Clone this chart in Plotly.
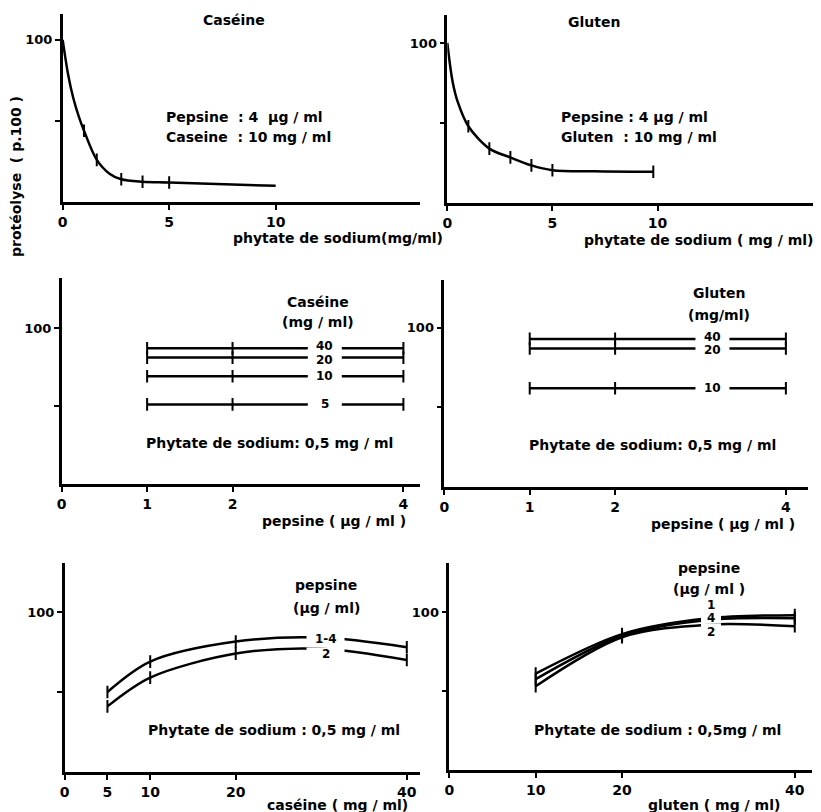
import plotly.graph_objects as go

# The page body keeps an 8px margin, so the figure is shifted by it.
OX, OY = 8, 8
W, H = 813, 804

# ---------------- data ----------------
# Panel 1 : caseine, phytate de sodium
cas_phyt_curve_x = [0, 0.25, 0.5, 0.75, 1, 1.6, 2.2, 2.75, 3.75, 5, 10]
cas_phyt_curve_y = [100, 79, 64, 53, 44, 26, 17.5, 14, 12.5, 12, 10]
cas_phyt_pts_x = [1, 1.6, 2.75, 3.75, 5]
cas_phyt_pts_y = [44, 26, 14, 12.5, 12]

# Panel 2 : gluten, phytate de sodium
glu_phyt_curve_x = [0, 0.25, 0.5, 1, 2, 3, 4, 5, 7, 9.8]
glu_phyt_curve_y = [100, 76, 63, 48, 34, 28.5, 23.5, 20.5, 19.8, 19.5]
glu_phyt_pts_x = [1, 2, 3, 4, 5, 9.8]
glu_phyt_pts_y = [48, 34, 28.5, 23.5, 20.5, 19.5]

# Panel 3 : caseine conc. vs pepsine
pepsine_x = [1, 2, 4]
cas_levels = ["40", "20", "10", "5"]
cas_pep_y = {"40": [87, 87, 87], "20": [81, 81, 81], "10": [69, 69, 69], "5": [51, 51, 51]}

# Panel 4 : gluten conc. vs pepsine
glu_levels = ["40", "20", "10"]
glu_pep_y = {"40": [93, 93, 93], "20": [87, 87, 87], "10": [62, 62, 62]}

# Panel 5 : caseine concentration, pepsine groups
cas_conc_x = [5, 10, 20, 30, 40]
cas_conc_pts_x = [5, 10, 20, 40]
cas_groups = ["1-4", "2"]
cas_conc_y = {"1-4": [50, 69, 81.5, 84, 78], "2": [41, 59, 74, 77, 70]}
cas_conc_pts_y = {"1-4": [50, 69, 81.5, 78], "2": [41, 59, 74, 70]}

# Panel 6 : gluten concentration, pepsine groups
glu_conc_x = [10, 20, 30, 40]
glu_groups = ["1", "4", "2"]
glu_conc_y = {"1": [61, 86, 96, 98], "4": [57.5, 85, 95, 96], "2": [53, 84, 92, 91]}

# ---------------- helpers ----------------
FONT = "DejaVu Sans"
BLACK = "black"
NB = "\u00a0"


def px(x):
    return (x - OX) / W


def py(y):
    return 1 - (y - OY) / H


fig = go.Figure()

# (panel, x-domain px, y-domain px (bottom, top), xrange, yrange, xticks)
panels = [
    (1, (58, 418), (202, 14), [0, 16.8], [0, 116], [0, 5, 10]),
    (2, (445, 813), (203, 15), [0, 17.4], [0, 117.5], [0, 5, 10]),
    (3, (57, 418), (484, 278), [0, 4.2], [0, 132], [0, 1, 2, 4]),
    (4, (442, 808), (487, 280), [0, 4.26], [0, 130], [0, 1, 2, 4]),
    (5, (60, 418), (772, 563), [0, 41.6], [0, 130.6], [0, 5, 10, 20, 40]),
    (6, (447, 812), (770, 563), [0, 42], [0, 131], [0, 10, 20, 40]),
]

for n, (x0, x1), (yb, yt), xr, yr, xt in panels:
    sfx = "" if n == 1 else str(n)
    fig.update_layout(**{
        "xaxis" + sfx: dict(
            domain=[px(x0), px(x1)], range=xr, anchor="y" + sfx,
            showline=True, linecolor=BLACK, linewidth=2.5,
            showgrid=False, zeroline=False,
            ticks="outside", ticklen=5, tickwidth=1.5, tickcolor=BLACK,
            tickvals=xt, ticktext=[str(v) for v in xt],
            tickfont=dict(family=FONT, size=14, color=BLACK, weight="bold"),
        ),
        "yaxis" + sfx: dict(
            domain=[py(yb), py(yt)], range=yr, anchor="x" + sfx,
            showline=True, linecolor=BLACK, linewidth=2.5,
            showgrid=False, zeroline=False,
            ticks="outside", ticklen=5, tickwidth=1.5, tickcolor=BLACK,
            tickvals=[50, 100], ticktext=["", "100"],
            tickfont=dict(family=FONT, size=13, color=BLACK, weight="bold"),
        ),
    })

LINE = dict(color=BLACK, width=2.5)
MARK = dict(symbol="line-ns", size=9, line=dict(color=BLACK, width=2), color=BLACK)


def ax(n):
    sfx = "" if n == 1 else str(n)
    return "x" + sfx, "y" + sfx


def add_line(x, y, n, shape="spline"):
    xa, ya = ax(n)
    fig.add_trace(go.Scatter(x=x, y=y, mode="lines",
                             line=dict(shape=shape, smoothing=0.9, **LINE),
                             xaxis=xa, yaxis=ya, hoverinfo="skip"))


def add_marks(x, y, n):
    xa, ya = ax(n)
    fig.add_trace(go.Scatter(x=x, y=y, mode="markers", marker=MARK,
                             xaxis=xa, yaxis=ya, hoverinfo="skip"))


# Panel 1
add_line(cas_phyt_curve_x, cas_phyt_curve_y, 1)
add_marks(cas_phyt_pts_x, cas_phyt_pts_y, 1)
# Panel 2
add_line(glu_phyt_curve_x, glu_phyt_curve_y, 2)
add_marks(glu_phyt_pts_x, glu_phyt_pts_y, 2)
# Panel 3
for lv in cas_levels:
    add_line(pepsine_x, cas_pep_y[lv], 3, shape="linear")
    add_marks(pepsine_x, cas_pep_y[lv], 3)
# Panel 4
for lv in glu_levels:
    add_line(pepsine_x, glu_pep_y[lv], 4, shape="linear")
    add_marks(pepsine_x, glu_pep_y[lv], 4)
# Panel 5
for g in cas_groups:
    add_line(cas_conc_x, cas_conc_y[g], 5)
    add_marks(cas_conc_pts_x, cas_conc_pts_y[g], 5)
# Panel 6
for g in glu_groups:
    add_line(glu_conc_x, glu_conc_y[g], 6)
    add_marks([glu_conc_x[0], glu_conc_x[1], glu_conc_x[-1]],
              [glu_conc_y[g][0], glu_conc_y[g][1], glu_conc_y[g][-1]], 6)

shapes = []       # white gaps that cut the lines around in-line labels
annotations = []
TF = dict(family=FONT, size=14, color=BLACK, weight="bold")
LF = dict(family=FONT, size=12, color=BLACK, weight="bold")


def txt(text, x, y, anchor="left", size=None):
    f = dict(TF)
    if size:
        f["size"] = size
    annotations.append(dict(text=text, x=px(x), y=py(y), xref="paper", yref="paper",
                            xanchor=anchor, yanchor="middle", showarrow=False, font=f))


def label_on(text, x, y, n, hw=17, hh=3.5, shift=0):
    xa, ya = ax(n)
    shapes.append(dict(type="rect", xref=xa, yref=ya, xsizemode="pixel", ysizemode="pixel",
                       xanchor=x, yanchor=y, x0=-hw, x1=hw, y0=-hh, y1=hh,
                       fillcolor="white", line=dict(width=0), layer="above"))
    annotations.append(dict(text=text, x=x, y=y, xref=xa, yref=ya, yshift=shift,
                            xanchor="center", yanchor="middle", showarrow=False, font=LF))


# Panel 1 texts
txt("Caséine", 230, 20, "center")
txt("Pepsine" + NB + " :" + NB + "4" + NB + " µg / ml", 160, 117)
txt("Caseine" + NB + " : 10 mg / ml", 160, 137)
txt("phytate de sodium(mg/ml)", 227, 238)
# Panel 2 texts
txt("Gluten", 593, 22, "center")
txt("Pepsine : 4 µg / ml", 557, 117)
txt("Gluten" + NB + " : 10 mg / ml", 557, 137)
txt("phytate de sodium ( mg / ml)", 815, 240, "right")
# Panel 3 texts
txt("Caséine", 315, 302, "center")
txt("(mg / ml)", 315, 322, "center")
cas_shift = {"40": 2, "20": -2, "10": 0, "5": 0}
for lv in cas_levels:
    label_on(lv, 3.08, cas_pep_y[lv][-1], 3, shift=cas_shift[lv])
txt("Phytate de sodium: 0,5 mg / ml", 140, 443)
txt("pepsine ( µg / ml )", 405, 521, "right")
# Panel 4 texts
txt("Gluten", 718, 293, "center")
txt("(mg/ml)", 718, 315, "center")
glu_shift = {"40": 2, "20": -2, "10": 0}
for lv in glu_levels:
    label_on(lv, 3.14, glu_pep_y[lv][-1], 4, shift=glu_shift[lv])
txt("Phytate de sodium: 0,5 mg / ml", 525, 445)
txt("pepsine ( µg / ml )", 797, 524, "right")
# Panel 5 texts
txt("pepsine", 323, 585, "center")
txt("(µg / ml)", 323, 608, "center")
label_on("1-4", 30.5, 83, 5, hw=19, hh=6)
label_on("2", 30.5, 74, 5, hw=19, hh=6)
txt("Phytate de sodium : 0,5 mg / ml", 142, 730)
txt("caséine ( mg / ml)", 262, 805)
# Panel 6 texts
txt("pepsine", 708, 568, "center")
txt("(µg / ml )", 708, 589, "center")
label_on("1", 30.3, 104, 6, hw=10, hh=6, shift=1)
label_on("4", 30.3, 97, 6, hw=10, hh=6, shift=-1)
label_on("2", 30.3, 89, 6, hw=10, hh=6, shift=-3)
txt("Phytate de sodium : 0,5mg / ml", 530, 730)
txt("gluten ( mg / ml)", 645, 805)

# shared y title
annotations.append(dict(text="protéolyse" + NB + " ( p.100 )", x=px(11), y=py(176),
                        xref="paper", yref="paper", xanchor="center", yanchor="middle",
                        textangle=-90, showarrow=False, font=TF))

fig.update_layout(
    width=W, height=H, margin=dict(l=0, r=0, t=0, b=0),
    paper_bgcolor="white", plot_bgcolor="white", showlegend=False,
    shapes=shapes, annotations=annotations,
)

fig.write_html("out.html")
